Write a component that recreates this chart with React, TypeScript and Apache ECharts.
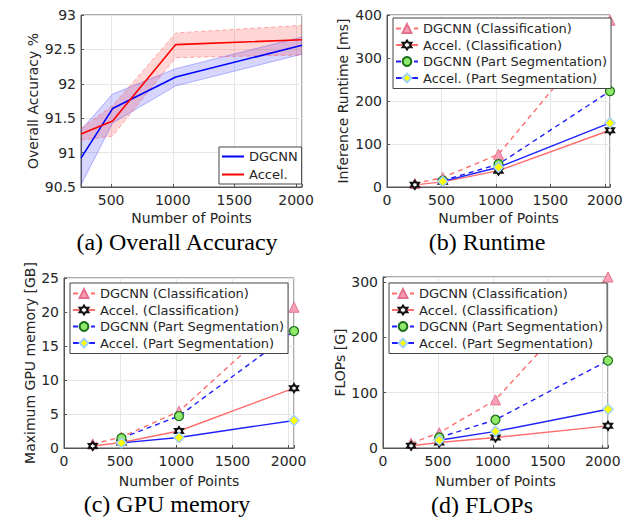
import React, { useEffect, useRef } from 'react';
import * as echarts from 'echarts';

// x values (number of points)
const numPoints = [256, 512, 1024, 2048];
const segPoints = [512, 1024, 2048];

// (a) Overall accuracy %
const dgcnnAcc = [90.92, 91.64, 92.1, 92.56];
const dgcnnAccLow = [90.53, 91.43, 91.97, 92.43];
const dgcnnAccHigh = [91.33, 91.85, 92.22, 92.68];
const accelAcc = [91.27, 91.46, 92.57, 92.64];
const accelAccLow = [91.18, 91.24, 92.38, 92.42];
const accelAccHigh = [91.35, 91.68, 92.74, 92.85];

// (b) Inference runtime [ms]
const rtDgcnnCls = [8, 22, 76, 388];
const rtAccelCls = [5, 12, 38, 132];
const rtDgcnnSeg = [15, 53, 223];
const rtAccelSeg = [13, 46, 149];

// (c) Max GPU memory [GB]
const memDgcnnCls = [0.6, 1.6, 5.4, 20.7];
const memAccelCls = [0.3, 0.8, 2.5, 8.8];
const memDgcnnSeg = [1.45, 4.7, 17.2];
const memAccelSeg = [0.75, 1.55, 4.05];

// (d) FLOPs [G]
const flDgcnnCls = [8.5, 27.5, 87, 309];
const flAccelCls = [4, 10, 19, 40];
const flDgcnnSeg = [19, 51, 158];
const flAccelSeg = [14, 30, 70];

// axis ticks / labels
const xTickStep = 500;
const accYTicks = { min: 90.5, max: 93, step: 0.5 };
const rtYTicks = { min: 0, max: 400, step: 100 };
const memYTicks = { min: 0, max: 25, step: 5 };
const flYTicks = { min: 0, max: 309, step: 100 };

const captions = ['(a) Overall Accuracy', '(b) Runtime', '(c) GPU memory', '(d) FLOPs'];
const yNames = ['Overall Accuracy %', 'Inference Runtime [ms]', 'Maximum GPU memory [GB]', 'FLOPs [G]'];
const xName = 'Number of Points';
const clsNames = ['DGCNN (Classification)', 'Accel. (Classification)', 'DGCNN (Part Segmentation)', 'Accel. (Part Segmentation)'];

const FONT = 'DejaVu Sans';
const TXT = '#262626';
const AX = '#555555';
const GRIDLINE = '#e6e6e6';

const HEXAGRAM = 'path://M0 -10 L2.887 -5 L8.66 -5 L5.774 0 L8.66 5 L2.887 5 L0 10 L-2.887 5 L-8.66 5 L-5.774 0 L-8.66 -5 L-2.887 -5 Z';

const pairs = (xs: number[], ys: number[]) => xs.map((x, i) => [x, ys[i]]);

function buildOption() {
  const grids = [
    { left: 81, top: 15, width: 221, height: 172 },
    { left: 387, top: 15, width: 223, height: 172 },
    { left: 64, top: 278, width: 230, height: 170 },
    { left: 383, top: 277, width: 225, height: 171 },
  ].map((g) => ({ ...g, show: true, borderColor: AX, borderWidth: 1, backgroundColor: '#fff' }));

  const xNameGaps = [24, 24, 26, 26];
  const xAxis = grids.map((_, gi) => ({
    type: 'value',
    gridIndex: gi,
    min: gi === 0 ? 256 : 0,
    max: 2048,
    ...(gi === 0 ? { splitNumber: 3 } : { interval: xTickStep }),
    name: xName,
    nameLocation: 'middle',
    nameGap: xNameGaps[gi],
    nameTextStyle: { fontSize: 14, color: TXT, fontFamily: FONT },
    axisLine: { show: true, lineStyle: { color: AX } },
    axisTick: { show: true, inside: true, length: 3, lineStyle: { color: AX } },
    axisLabel: {
      fontSize: 14, color: TXT, fontFamily: FONT, margin: 6,
      formatter: (v: number) => (v % xTickStep === 0 ? String(v) : ''),
    },
    splitLine: { show: true, lineStyle: { color: GRIDLINE } },
  }));

  const yT = [accYTicks, rtYTicks, memYTicks, flYTicks];
  const yNameGaps = [41, 37, 25, 34];
  const yAxis = grids.map((_, gi) => ({
    type: 'value',
    gridIndex: gi,
    min: yT[gi].min,
    max: yT[gi].max,
    interval: yT[gi].step,
    name: yNames[gi],
    nameLocation: 'middle',
    nameGap: yNameGaps[gi],
    nameTextStyle: { fontSize: 14, color: TXT, fontFamily: FONT },
    axisLine: { show: true, lineStyle: { color: AX } },
    axisTick: { show: true, inside: true, length: 3, lineStyle: { color: AX } },
    axisLabel: {
      fontSize: 14, color: TXT, fontFamily: FONT, margin: 5,
      formatter: (v: number) => {
        const k = Math.round((v - yT[gi].min) / yT[gi].step);
        return Math.abs(yT[gi].min + k * yT[gi].step - v) < 1e-6 ? String(v) : '';
      },
    },
    splitLine: { show: true, lineStyle: { color: GRIDLINE } },
  }));

  const series: any[] = [];
  const base = (gi: number) => ({ type: 'line', xAxisIndex: gi, yAxisIndex: gi, animation: false });

  // (a) confidence bands, drawn as polygons through the axis scales
  const band = (key: string, low: number[], high: number[], fill: string, edge: any, z: number) => {
    series.push({
      type: 'custom',
      name: key,
      coordinateSystem: 'cartesian2d',
      xAxisIndex: 0,
      yAxisIndex: 0,
      data: numPoints.map((x, i) => [x, low[i], high[i]]),
      encode: { x: 0, y: [1, 2] },
      z,
      silent: true,
      renderItem: (params: any, api: any) => {
        if (params.dataIndex !== 0) return null;
        const top = numPoints.map((x, i) => api.coord([x, high[i]]));
        const bot = numPoints.map((x, i) => api.coord([x, low[i]])).reverse();
        return { type: 'polygon', shape: { points: top.concat(bot) }, style: { fill, stroke: 'none' } };
      },
    });
    series.push({ ...base(0), name: key + '-low', data: pairs(numPoints, low), symbol: 'none', lineStyle: edge, z });
    series.push({ ...base(0), name: key + '-high', data: pairs(numPoints, high), symbol: 'none', lineStyle: edge, z });
  };
  band('dgcnnband', dgcnnAccLow, dgcnnAccHigh, 'rgba(50,50,255,0.2)', { color: 'rgba(60,60,255,0.35)', width: 1 }, 2);
  band('accelband', accelAccLow, accelAccHigh, 'rgba(255,50,50,0.2)', { color: 'rgba(255,80,80,0.45)', width: 1, type: [4, 3] }, 2);
  series.push({ ...base(0), name: 'DGCNN', data: pairs(numPoints, dgcnnAcc), symbol: 'none', color: '#0000ff', lineStyle: { color: '#0000ff', width: 1.6 }, z: 3 });
  series.push({ ...base(0), name: 'Accel.', data: pairs(numPoints, accelAcc), symbol: 'none', color: '#ff0000', lineStyle: { color: '#ff0000', width: 1.6 }, z: 3 });

  // (b)-(d)
  const sets = [
    [rtDgcnnCls, rtAccelCls, rtDgcnnSeg, rtAccelSeg],
    [memDgcnnCls, memAccelCls, memDgcnnSeg, memAccelSeg],
    [flDgcnnCls, flAccelCls, flDgcnnSeg, flAccelSeg],
  ];
  sets.forEach((s, k) => {
    const gi = k + 1;
    series.push({
      ...base(gi), name: clsNames[0], data: pairs(numPoints, s[0]), clip: false,
      symbol: 'triangle', symbolSize: 10,
      lineStyle: { color: '#ff6e6e', width: 1.4, type: [5, 4] },
      itemStyle: { color: '#f5a0b6', borderColor: '#e5708c', borderWidth: 1 }, z: 3,
    });
    series.push({
      ...base(gi), name: clsNames[1], data: pairs(numPoints, s[1]), clip: false,
      symbol: HEXAGRAM, symbolSize: 8,
      lineStyle: { color: '#ff6e6e', width: 1.4 },
      itemStyle: { color: '#ffffff', borderColor: '#111111', borderWidth: 2 }, z: 4,
    });
    series.push({
      ...base(gi), name: clsNames[2], data: pairs(segPoints, s[2]), clip: false,
      symbol: 'circle', symbolSize: 9,
      lineStyle: { color: '#2020ff', width: 1.4, type: [5, 4] },
      itemStyle: { color: '#90ea6a', borderColor: '#1b6e1b', borderWidth: 1.2 }, z: 5,
    });
    series.push({
      ...base(gi), name: clsNames[3], data: pairs(segPoints, s[3]), clip: false,
      symbol: 'diamond', symbolSize: 10,
      lineStyle: { color: '#2020ff', width: 1.4 },
      itemStyle: { color: '#ffff00', borderColor: '#9fd0ff', borderWidth: 1.5 }, z: 6,
    });
  });

  const legendBase = {
    orient: 'vertical',
    selectedMode: false,
    backgroundColor: '#ffffff',
    borderColor: '#444444',
    borderWidth: 1,
    textStyle: { fontSize: 13, color: TXT, fontFamily: FONT },
    itemWidth: 22,
    z: 10,
  };
  const legend = [
    { ...legendBase, left: 219, top: 147, data: ['DGCNN', 'Accel.'], icon: 'rect', itemHeight: 2, itemGap: 5, padding: [3, 4, 3, 3] },
    { ...legendBase, left: 393, top: 18, data: clsNames, itemHeight: 11, itemGap: 3.5, padding: [4, 4, 4, 2] },
    { ...legendBase, left: 70, top: 283, data: clsNames, itemHeight: 11, itemGap: 3.5, padding: [4, 4, 4, 2] },
    { ...legendBase, left: 389, top: 283, data: clsNames, itemHeight: 11, itemGap: 3.5, padding: [4, 4, 4, 2] },
  ];

  const capPos = [[177, 242], [487, 242], [167, 504], [482, 505]];
  const graphic = captions.map((t, i) => ({
    type: 'text',
    x: capPos[i][0],
    y: capPos[i][1],
    style: {
      text: t, fontSize: 24, fontFamily: 'Liberation Serif', fill: '#000',
      align: 'center', verticalAlign: 'middle',
    },
  }));

  return {
    animation: false,
    backgroundColor: '#ffffff',
    textStyle: { fontFamily: FONT },
    grid: grids,
    xAxis,
    yAxis,
    legend,
    series,
    graphic,
  };
}

export default function App() {
  const ref = useRef<HTMLDivElement>(null);
  useEffect(() => {
    document.body.style.margin = '0';
    const chart = echarts.init(ref.current!, null, { renderer: 'svg' });
    chart.setOption(buildOption() as any);
    return () => chart.dispose();
  }, []);
  return <div ref={ref} style={{ width: 629, height: 517 }} />;
}
